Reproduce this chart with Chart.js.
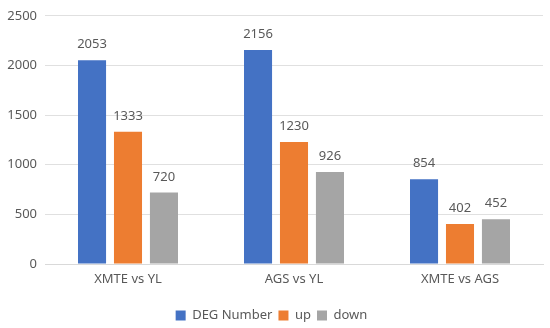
<!DOCTYPE html>
<html>
<head>
<meta charset="utf-8">
<script src="https://cdn.jsdelivr.net/npm/chart.js@4"></script>
<style>
  html, body { margin: 0; padding: 0; background: #fff; }
  #wrap { width: 550px; height: 328px; }
</style>
</head>
<body>
<div id="wrap"><canvas id="degChart"></canvas></div>
<script>
// Data
const categories = ['XMTE vs YL', 'AGS vs YL', 'XMTE vs AGS'];
const degNumber = [2053, 2156, 854];
const upValues = [1333, 1230, 402];
const downValues = [720, 926, 452];
const yTicks = [0, 500, 1000, 1500, 2000, 2500];

const textColor = '#595959';
const fontFamily = '"Noto Sans", "Open Sans", sans-serif';

// Draw value labels above each bar
const valueLabels = {
    id: 'valueLabels',
    afterDatasetsDraw(chart) {
        const ctx = chart.ctx;
        ctx.save();
        ctx.fillStyle = textColor;
        ctx.font = '13px ' + fontFamily;
        ctx.textAlign = 'center';
        ctx.textBaseline = 'bottom';
        chart.data.datasets.forEach((ds, i) => {
            chart.getDatasetMeta(i).data.forEach((bar, j) => {
                ctx.fillText(ds.data[j], bar.x, bar.y - 9);
            });
        });
        ctx.restore();
    }
};

const ctx = document.getElementById('degChart').getContext('2d');

new Chart(ctx, {
    type: 'bar',
    data: {
        labels: categories,
        datasets: [{
            label: 'DEG Number',
            data: degNumber,
            backgroundColor: '#4472C4'
        }, {
            label: 'up',
            data: upValues,
            backgroundColor: '#ED7D31'
        }, {
            label: 'down',
            data: downValues,
            backgroundColor: '#A5A5A5'
        }]
    },
    options: {
        responsive: true,
        maintainAspectRatio: false,
        animation: false,
        categoryPercentage: 0.65,
        barPercentage: 0.78,
        layout: { padding: { top: 8, right: 7, bottom: -4, left: 0 } },
        scales: {
            x: {
                grid: { display: false, drawTicks: false },
                border: { color: '#d9d9d9' },
                ticks: { color: textColor, font: { family: fontFamily, size: 13 }, padding: 7 },
                afterFit(scale) { scale.height = 39; }
            },
            y: {
                min: 0,
                max: 2500,
                afterBuildTicks(scale) { scale.ticks = yTicks.map(v => ({ value: v })); },
                grid: { color: '#e0e0e0', drawTicks: false },
                border: { display: false },
                ticks: {
                    color: textColor,
                    font: { family: fontFamily, size: 13 },
                    padding: 8,
                    callback: v => String(v)
                },
                afterFit(scale) { scale.width = 45; }
            }
        },
        plugins: {
            legend: {
                position: 'bottom',
                labels: {
                    color: textColor,
                    font: { family: fontFamily, size: 13 },
                    boxWidth: 10,
                    boxHeight: 10,
                    padding: 6
                }
            },
            tooltip: { enabled: false }
        }
    },
    plugins: [valueLabels]
});
</script>
</body>
</html>
